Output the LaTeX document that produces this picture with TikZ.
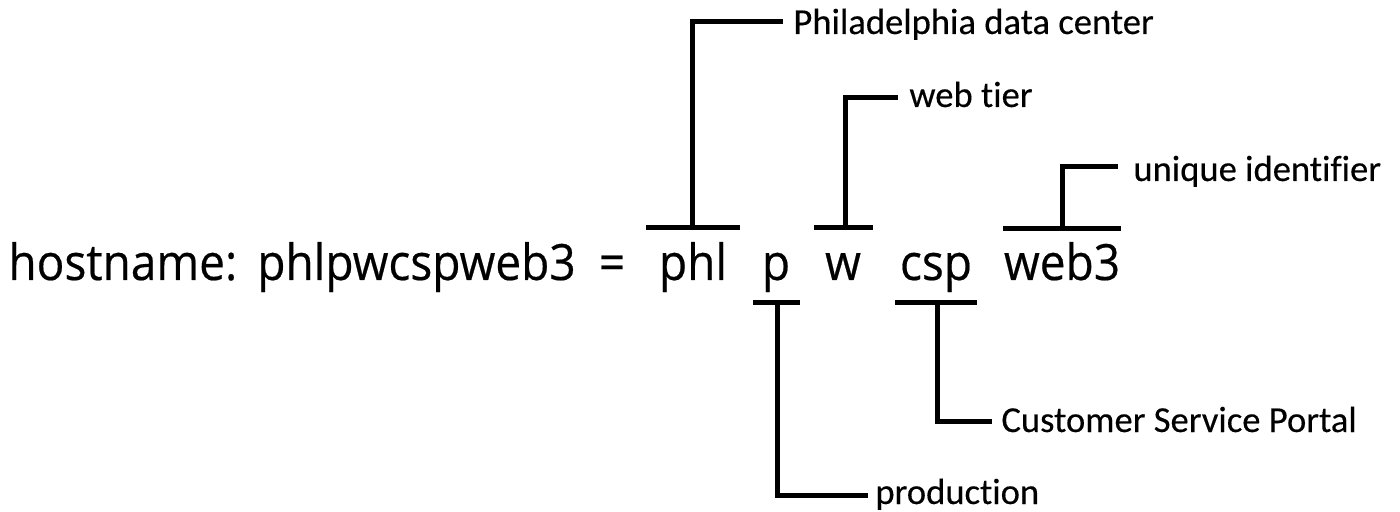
\documentclass[tikz,border=0pt]{standalone}
\usepackage{fontspec}
\setmainfont{Open Sans}
\newfontfamily\segfont[FakeStretch=0.92,FakeBold=0.4]{Open Sans}
\newfontfamily\lblfont[Ligatures=NoCommon,FakeBold=0.3]{Carlito}
\begin{document}
\begin{tikzpicture}[x=0.5pt,y=-0.5pt,
  seg/.style={anchor=base, inner sep=0pt, font=\segfont\fontsize{25}{30}\selectfont},
  lbl/.style={anchor=base west, inner sep=0pt, font=\lblfont\fontsize{18.3}{22}\selectfont},
  brk/.style={line width=2.5pt, line join=miter}]
\useasboundingbox (0,0) rectangle (1400,512);
% main text
\node[seg, anchor=base west] (host) at (8,280) {hostname:};
\node[seg, anchor=base east] (full) at (576,280) {phlpwcspweb3};
\node[seg] (eq) at (612,280) {=};
\node[seg] (phl) at (693,280) {phl};
\node[seg] (p) at (776,280) {p};
\node[seg] (w) at (843,280) {w};
\node[seg] (csp) at (936,280) {csp};
\node[seg] (web) at (1062,280) {web3};
% labels
\node[lbl] (lphl) at (793,34) {Philadelphia data center};
\node[lbl] (lw) at (909,107) {web tier};
\node[lbl] (lweb) at (1133,181) {unique identifier};
\node[lbl] (lp) at (875,504) {production};
\node[lbl] (lcsp) at (1001,432) {Customer Service Portal};
% bar coordinates
\coordinate (phlL) at (646,228); \coordinate (phlR) at (740,228);
\coordinate (phlT) at (692,228); \coordinate (phlE) at (783,22);
\coordinate (wL) at (814,228); \coordinate (wR) at (873,228);
\coordinate (wT) at (845,228); \coordinate (wE) at (898,98);
\coordinate (webL) at (1003,229); \coordinate (webR) at (1121,229);
\coordinate (webT) at (1062,229); \coordinate (webE) at (1118,167);
\coordinate (pL) at (753,303); \coordinate (pR) at (800,303);
\coordinate (pT) at (777,303); \coordinate (pE) at (868,495);
\coordinate (cspL) at (895,303); \coordinate (cspR) at (977,303);
\coordinate (cspT) at (937,303); \coordinate (cspE) at (992,421);
% brackets
\draw[brk] (phlL) -- (phlR);
\draw[brk] (phlT) |- (phlE);
\draw[brk] (wL) -- (wR);
\draw[brk] (wT) |- (wE);
\draw[brk] (webL) -- (webR);
\draw[brk] (webT) |- (webE);
\draw[brk] (pL) -- (pR);
\draw[brk] (pT) |- (pE);
\draw[brk] (cspL) -- (cspR);
\draw[brk] (cspT) |- (cspE);
\end{tikzpicture}
\end{document}
